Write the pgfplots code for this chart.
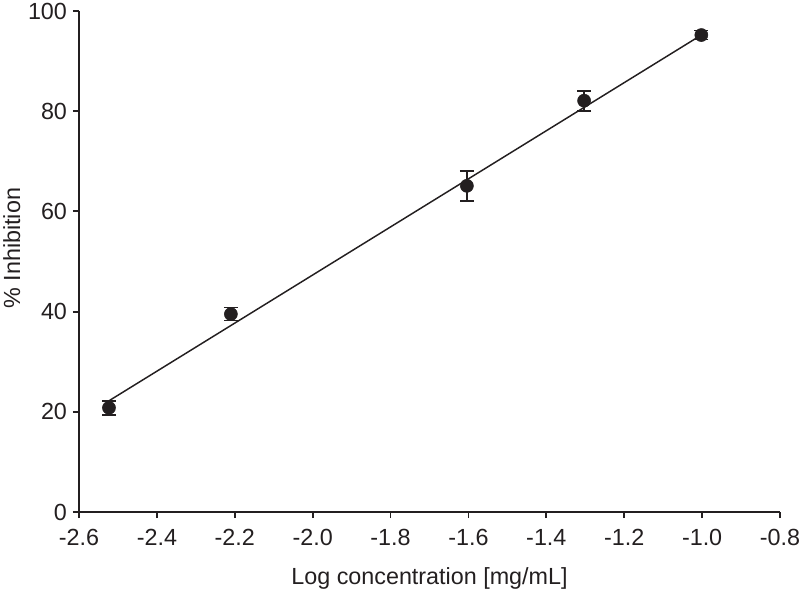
\documentclass[border=0pt]{standalone}
\usepackage{pgfplots}
\pgfplotsset{compat=1.18}
\usepackage{fontspec}
\setmainfont{Liberation Sans}
\definecolor{txt}{HTML}{231F20}
\begin{document}
\begin{tikzpicture}
\begin{axis}[
    scale only axis,
    width=525.75pt, height=375.75pt,
    xmin=-2.6, xmax=-0.8, ymin=0, ymax=100,
    axis x line=bottom, axis y line=left,
    axis line style={-, line width=1.4pt, txt},
    tick align=outside,
    major tick length=4.5pt,
    tick style={line width=1.4pt, txt},
    xtick={-2.6,-2.4,...,-0.8},
    ytick={0,20,...,100},
    x tick label style={yshift=-5pt, /pgf/number format/.cd, fixed, fixed zerofill, precision=1},
    y tick label style={xshift=-1pt},
    /pgf/number format/assume math mode=true,
    ticklabel style={font=\fontsize{17.5}{20}\selectfont, text=txt},
    label style={font=\fontsize{17.5}{20}\selectfont, text=txt},
    xlabel={Log concentration [mg/mL]},
    ylabel={\% Inhibition},
    xlabel style={at={(axis description cs:0.5,0)}, anchor=center, yshift=-49.5pt},
    ylabel style={at={(axis description cs:0,0.5)}, anchor=center, yshift=50.5pt, xshift=10pt},
    clip=false,
]
\addplot[txt, line width=1.1pt] coordinates {(-2.523,22.2) (-1.0,95.3)};
\addplot[only marks, mark=*, mark size=4.9pt, txt,
    error bars/.cd, y dir=both, y explicit,
    error bar style={line width=1.3pt, txt},
    error mark options={rotate=90, mark size=5.3pt, line width=1.3pt, txt}]
    coordinates {
    (-2.523,20.8) +- (0,1.4)
    (-2.210,39.5) +- (0,1.3)
    (-1.604,65.1) +- (0,3.0)
    (-1.303,82.1) +- (0,2.0)
    (-1.002,95.2) +- (0,0.9)
};
\end{axis}
\pgfresetboundingbox
\useasboundingbox (current axis.south west) ++(-59.25pt,-63pt) rectangle ([xshift=15pt,yshift=8.25pt]current axis.north east);
\end{tikzpicture}
\end{document}
